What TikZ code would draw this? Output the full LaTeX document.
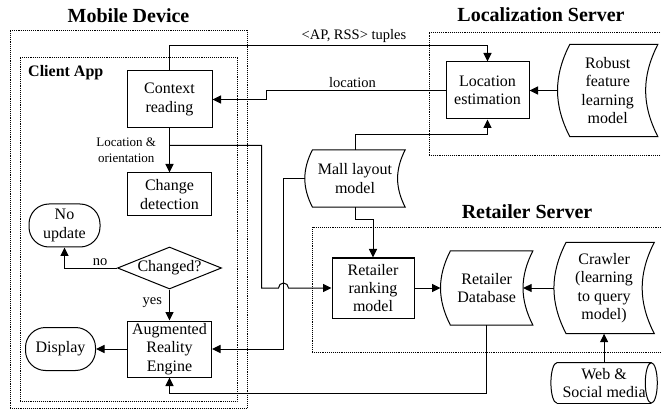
\documentclass[tikz,border=0pt]{standalone}
\usepackage{fontspec}
\setmainfont{Liberation Serif}
\usetikzlibrary{shapes.geometric, arrows.meta, positioning, calc}
\tikzset{block/.style={rectangle,draw,line width=1pt,align=center,inner sep=0pt,font=\fontsize{16}{18.4}\selectfont},
         term/.style={rectangle,draw,line width=1pt,rounded corners=20pt,align=center,inner sep=0pt,minimum width=71pt,minimum height=43pt,font=\fontsize{16}{18.4}\selectfont},
         decision/.style={diamond,draw,line width=1pt,aspect=2.5,inner sep=0pt,minimum width=104pt,minimum height=42pt,font=\fontsize{16}{18.4}\selectfont},
         store/.style={rectangle,align=center,inner sep=0pt,font=\fontsize{16}{18.4}\selectfont},
         boundary/.style={draw,densely dotted,line width=0.9pt,inner sep=0pt},
         title/.style={font=\bfseries\fontsize{20}{24}\selectfont,inner sep=0pt},
         lbl/.style={font=\fontsize{14.5}{16}\selectfont,inner sep=2pt},
         arrow/.style={-{Triangle[length=8.5pt,width=8pt]},line width=1pt}}
% curved "stored data" outline round a store node
\newcommand{\storeshape}[1]{%
  \draw[line width=1pt] let \p1=($(#1.north)-(#1.south)$), \n1={0.133*\y1} in
    ([xshift=\n1]#1.north west) -- (#1.north east) to[bend right=27] (#1.south east)
    -- ([xshift=\n1]#1.south west) to[bend left=27] ([xshift=\n1]#1.north west) -- cycle;}
% lying drum outline round a store node
\newcommand{\drumshape}[1]{%
  \draw[line width=1pt] let \p1=($(#1.north)-(#1.south)$) in
    ([xshift=6pt]#1.south west) arc[start angle=270,end angle=90,x radius=6pt,y radius=0.5*\y1]
    -- ([xshift=-6pt]#1.north east) arc[start angle=90,end angle=-270,x radius=6pt,y radius=0.5*\y1];
  \draw[line width=1pt] ([xshift=-6pt]#1.south east) -- ([xshift=6pt]#1.south west);}
\begin{document}
\begin{tikzpicture}[x=1pt,y=1pt]
    \useasboundingbox (0,0) rectangle (661,410);
    \clip (0,0) rectangle (661,410);
    % containers
    \node (mdbox) [boundary, minimum width=237pt, minimum height=378pt] at (128.5,191) {};
    \node (capbox) [boundary, minimum width=217pt, minimum height=344pt] at (128.5,181) {};
    \node (lsbox) [boundary, minimum width=245pt, minimum height=123pt] at (551.5,316.5) {};
    \node (rsbox) [boundary, minimum width=360pt, minimum height=125pt] at (492,120.5) {};
    \node (mdtitle) [title, above=7pt of mdbox] {Mobile Device};
    \node (lstitle) [title, anchor=base] at (541,388) {Localization Server};
    \node (rstitle) [title, anchor=base] at (527,191) {Retailer Server};
    \node (caplbl) [anchor=base west, font=\bfseries\fontsize{16}{19}\selectfont, inner sep=0pt] at (28,333) {Client App};
    % client app
    \node (ctx) [block, minimum width=85pt, minimum height=57pt] at (169.5,310.5) {Context\\reading};
    \node (chg) [block, minimum width=84pt, minimum height=43pt, below=44pt of ctx] {Change\\detection};
    \node (chk) [decision, below=30pt of chg] {Changed?};
    \node (are) [block, minimum width=84pt, minimum height=56pt, below=31pt of chk] {Augmented\\Reality\\Engine};
    \node (noupd) [term] at (64.5,184.5) {No\\update};
    \node (disp) [term, minimum width=70pt, left=31pt of are] {Display};
    % localization server
    \node (locest) [block, minimum width=83pt, minimum height=57pt] at (487.5,319.5) {Location\\estimation};
    \node (robust) [store, minimum width=100pt, minimum height=92pt, right=28pt of locest] {Robust\\feature\\learning\\model};
    \node (mall) [store, minimum width=100pt, minimum height=57pt] at (355,231.5) {Mall layout\\model};
    % retailer server
    \node (rank) [block, minimum width=82pt, minimum height=60pt] at (373,122) {Retailer\\ranking\\model};
    \node (rdb) [store, minimum width=92pt, minimum height=74pt, right=26pt of rank] {Retailer\\Database};
    \node (crawl) [store, minimum width=100pt, minimum height=91pt, right=21pt of rdb] {Crawler\\(learning\\to query\\model)};
    \node (social) [store, minimum width=106pt, minimum height=40pt, below=29pt of crawl] {Web \&\\Social media};
    \storeshape{robust}
    \storeshape{mall}
    \storeshape{rdb}
    \storeshape{crawl}
    \drumshape{social}
    % connectors
    \draw[arrow] (ctx.north) -- ++(0,25) -| node[lbl,above,pos=0.29]{<AP, RSS> tuples} (locest.north);
    \draw[arrow] (locest.west) -- node[lbl,above,pos=0.52]{location} ++(-179,0) |- (ctx.east);
    \draw[arrow] (robust.west) -- (locest.east);
    \draw[arrow] (mall.north) -- ++(0,15) -| (locest.south);
    \draw[arrow] (mall.west) -- ++(-21,0) |- (are.east);
    \draw[arrow] (mall.south) -- ++(0,-12) -| (rank.north);
    \draw[arrow] (ctx.south) -- coordinate[pos=0.386] (split) node[lbl,left=11pt,pos=0.5,align=center,font=\fontsize{13}{16}\selectfont]{Location \&\\orientation} (chg.north);
    \draw[arrow] (split) -- ++(92,0) |- ([xshift=-53pt]rank.west) arc[start angle=180,end angle=0,radius=5pt] -- (rank.west);
    \draw[arrow] (chk.west) -| node[lbl,above,pos=0.16]{no} (noupd.south);
    \draw[arrow] (chk.south) -- node[lbl,left=5pt,pos=0.42]{yes} (are.north);
    \draw[arrow] (are.west) -- (disp.east);
    \draw[arrow] (rdb.south) -- ++(0,-68) -| (are.south);
    \draw[arrow] (rank.east) -- (rdb.west);
    \draw[arrow] (crawl.west) -- ([xshift=-9.8pt]rdb.east);
    \draw[arrow] (social.north) -- (crawl.south);
\end{tikzpicture}
\end{document}
